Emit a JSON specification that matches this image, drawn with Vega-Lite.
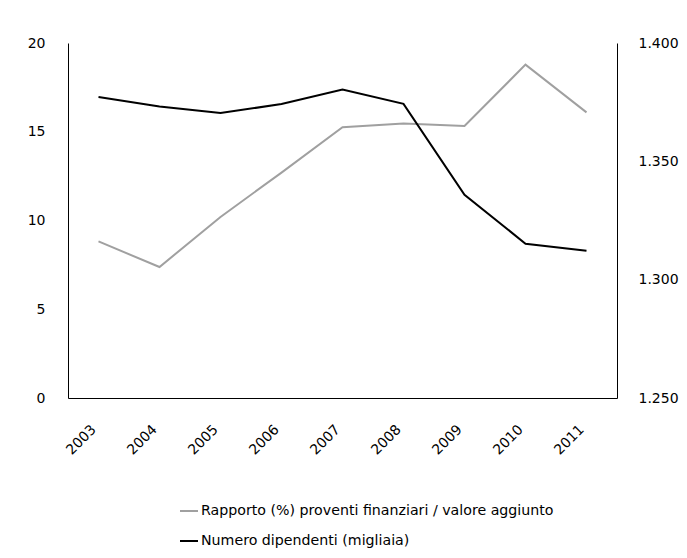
{
  "$schema": "https://vega.github.io/schema/vega-lite/v6.json",
  "autosize": {"type": "none"},
  "width": 549,
  "height": 355,
  "padding": {"left": 68, "top": 43, "right": 70, "bottom": 160},
  "background": "white",
  "config": {
    "view": {"stroke": null},
    "font": "DejaVu Sans",
    "axis": {"labelFont": "DejaVu Sans", "labelColor": "#000", "domainColor": "#000", "domainWidth": 1, "ticks": false, "grid": false, "title": null}
  },
  "data": {
    "values": [
      {"year": "2003", "series": "Rapporto (%) proventi finanziari / valore aggiunto", "value": 8.82},
      {"year": "2004", "series": "Rapporto (%) proventi finanziari / valore aggiunto", "value": 7.38},
      {"year": "2005", "series": "Rapporto (%) proventi finanziari / valore aggiunto", "value": 10.2},
      {"year": "2006", "series": "Rapporto (%) proventi finanziari / valore aggiunto", "value": 12.7},
      {"year": "2007", "series": "Rapporto (%) proventi finanziari / valore aggiunto", "value": 15.25},
      {"year": "2008", "series": "Rapporto (%) proventi finanziari / valore aggiunto", "value": 15.47},
      {"year": "2009", "series": "Rapporto (%) proventi finanziari / valore aggiunto", "value": 15.32},
      {"year": "2010", "series": "Rapporto (%) proventi finanziari / valore aggiunto", "value": 18.78},
      {"year": "2011", "series": "Rapporto (%) proventi finanziari / valore aggiunto", "value": 16.09},
      {"year": "2003", "series": "Numero dipendenti (migliaia)", "value": 1377.2},
      {"year": "2004", "series": "Numero dipendenti (migliaia)", "value": 1373.2},
      {"year": "2005", "series": "Numero dipendenti (migliaia)", "value": 1370.4},
      {"year": "2006", "series": "Numero dipendenti (migliaia)", "value": 1374.2},
      {"year": "2007", "series": "Numero dipendenti (migliaia)", "value": 1380.3},
      {"year": "2008", "series": "Numero dipendenti (migliaia)", "value": 1374.3},
      {"year": "2009", "series": "Numero dipendenti (migliaia)", "value": 1335.9},
      {"year": "2010", "series": "Numero dipendenti (migliaia)", "value": 1315.2},
      {"year": "2011", "series": "Numero dipendenti (migliaia)", "value": 1312.2}
    ]
  },
  "encoding": {
    "x": {
      "field": "year", "type": "ordinal",
      "scale": {"type": "point", "padding": 0.5},
      "axis": {"labelAngle": -45, "labelAlign": "right", "labelBaseline": "bottom", "labelPadding": 34, "labelDx": -3, "labelFontSize": 14}
    },
    "color": {
      "field": "series", "type": "nominal",
      "scale": {"domain": ["Rapporto (%) proventi finanziari / valore aggiunto", "Numero dipendenti (migliaia)"], "range": ["#a0a0a0", "#000000"]},
      "legend": {
        "title": null, "orient": "none", "legendX": 111, "legendY": 458,
        "symbolType": "stroke", "symbolSize": 324, "symbolStrokeWidth": 2,
        "labelFont": "DejaVu Sans", "labelFontSize": 14.2, "labelColor": "#000", "labelLimit": 0,
        "labelOffset": 2, "rowPadding": 12
      }
    }
  },
  "layer": [
    {
      "transform": [{"filter": "datum.series === 'Rapporto (%) proventi finanziari / valore aggiunto'"}],
      "mark": {"type": "line", "strokeWidth": 2},
      "encoding": {
        "y": {
          "field": "value", "type": "quantitative",
          "scale": {"domain": [0, 20], "nice": false, "zero": false},
          "axis": {"orient": "left", "values": [0, 5, 10, 15, 20], "labelPadding": 23, "labelFontSize": 14}
        }
      }
    },
    {
      "transform": [{"filter": "datum.series === 'Numero dipendenti (migliaia)'"}],
      "mark": {"type": "line", "strokeWidth": 2},
      "encoding": {
        "y": {
          "field": "value", "type": "quantitative",
          "scale": {"domain": [1250, 1400], "nice": false, "zero": false},
          "axis": {"orient": "right", "values": [1250, 1300, 1350, 1400], "labelPadding": 21, "labelFontSize": 14, "labelAlign": "left",
            "labelExpr": "replace(format(datum.value, ','), ',', '.')"}
        }
      }
    }
  ],
  "resolve": {"scale": {"y": "independent"}}
}
